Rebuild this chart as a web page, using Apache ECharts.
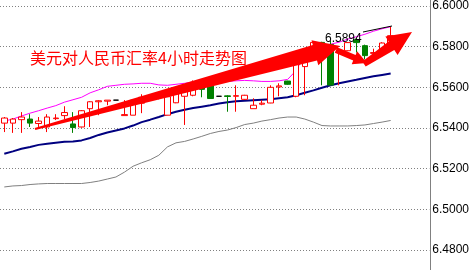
<!DOCTYPE html>
<html>
<head>
<meta charset="utf-8">
<script src="https://cdn.jsdelivr.net/npm/echarts@6/dist/echarts.min.js"></script>
<style>
html,body{margin:0;padding:0;background:#fff;}
#c{width:472px;height:270px;}
</style>
</head>
<body>
<div id="c"></div>
<script>
// categories (4-hour bars); the last four slots are empty space on the right
var categories = ["1","2","3","4","5","6","7","8","9","10","11","12","13","14","15","16","17","18","19","20",
  "21","22","23","24","25","26","27","28","29","30","31","32","33","34","35","36","37","38","39","40",
  "41","42","43","44","45","46","47","48","49","50"];

// candles: [open, close, low, high]
var candles = [
  [6.5424, 6.5449, 6.5380, 6.5454],
  [6.5424, 6.5444, 6.5376, 6.5449],
  [6.5441, 6.5454, 6.5376, 6.5478],
  [6.5444, 6.5424, 6.5405, 6.5468],
  [6.5422, 6.5434, 6.5405, 6.5454],
  [6.5405, 6.5454, 6.5380, 6.5468],
  [6.5446, 6.5449, 6.5439, 6.5468],
  [6.5461, 6.5476, 6.5444, 6.5507],
  [6.5420, 6.5402, 6.5376, 6.5478],
  [6.5405, 6.5485, 6.5402, 6.5488],
  [6.5495, 6.5529, 6.5405, 6.5532],
  [6.5529, 6.5534, 6.5463, 6.5537],
  [6.5532, 6.5537, 6.5512, 6.5537],
  [6.5537, 6.5537, 6.5537, 6.5537],
  [6.5461, 6.5466, 6.5461, 6.5537],
  [6.5463, 6.5537, 6.5463, 6.5541],
  [6.5522, 6.5551, 6.5473, 6.5566],
  [6.5546, 6.5554, 6.5537, 6.5556],
  [6.5551, 6.5561, 6.5541, 6.5571],
  [6.5463, 6.5554, 6.5463, 6.5561],
  [6.5524, 6.5576, 6.5522, 6.5585],
  [6.5556, 6.5595, 6.5415, 6.5605],
  [6.5561, 6.5620, 6.5556, 6.5634],
  [6.5610, 6.5590, 6.5551, 6.5634],
  [6.5610, 6.5545, 6.5544, 6.5615],
  [6.5556, 6.5556, 6.5556, 6.5556],
  [6.5558, 6.5555, 6.5480, 6.5561],
  [6.5556, 6.5559, 6.5480, 6.5610],
  [6.5541, 6.5561, 6.5539, 6.5563],
  [6.5495, 6.5512, 6.5495, 6.5546],
  [6.5517, 6.5522, 6.5512, 6.5537],
  [6.5523, 6.5600, 6.5522, 6.5610],
  [6.5602, 6.5607, 6.5556, 6.5620],
  [6.5631, 6.5615, 6.5612, 6.5632],
  [6.5556, 6.5771, 6.5551, 6.5776],
  [6.5702, 6.5780, 6.5561, 6.5790],
  [6.5771, 6.5821, 6.5768, 6.5824],
  [6.5821, 6.5805, 6.5610, 6.5824],
  [6.5811, 6.5611, 6.5610, 6.5829],
  [6.5776, 6.5780, 6.5610, 6.5780],
  [6.5780, 6.5820, 6.5778, 6.5822],
  [6.5834, 6.5820, 6.5771, 6.5844],
  [6.5805, 6.5756, 6.5737, 6.5810],
  [6.5767, 6.5771, 6.5748, 6.5790],
  [6.5777, 6.5818, 6.5776, 6.5822],
  [6.5805, 6.5854, 6.5795, 6.5898]
];

// Bollinger bands
var upperBand = [6.5434,6.5444,6.5459,6.5473,6.5485,6.5498,6.5510,6.5527,6.5539,6.5551,
  6.5573,6.5588,6.5605,6.5610,6.5615,6.5617,6.5620,6.5620,6.5612,6.5610,
  6.5615,6.5620,6.5627,6.5632,6.5634,6.5632,6.5629,6.5632,6.5634,6.5632,
  6.5629,6.5629,6.5632,6.5639,6.5683,6.5763,6.5790,6.5805,6.5812,6.5822,
  6.5837,6.5849,6.5861,6.5876,6.5888,6.5898];
var middleBand = [6.5273,6.5285,6.5298,6.5307,6.5317,6.5322,6.5327,6.5332,6.5334,6.5339,
  6.5351,6.5366,6.5378,6.5388,6.5398,6.5412,6.5429,6.5441,6.5454,6.5468,
  6.5480,6.5490,6.5498,6.5505,6.5512,6.5520,6.5527,6.5532,6.5534,6.5537,
  6.5539,6.5541,6.5546,6.5551,6.5561,6.5573,6.5585,6.5598,6.5610,6.5620,
  6.5629,6.5637,6.5646,6.5654,6.5661,6.5668];
var lowerBand = [6.5110,6.5115,6.5117,6.5122,6.5125,6.5127,6.5127,6.5127,6.5127,6.5127,
  6.5132,6.5139,6.5149,6.5159,6.5183,6.5212,6.5229,6.5244,6.5266,6.5307,
  6.5327,6.5334,6.5346,6.5359,6.5373,6.5383,6.5390,6.5402,6.5417,6.5424,
  6.5434,6.5441,6.5449,6.5454,6.5454,6.5444,6.5429,6.5412,6.5410,6.5410,
  6.5410,6.5412,6.5415,6.5422,6.5429,6.5437];

var yTicks = [6.48, 6.50, 6.52, 6.54, 6.56, 6.58, 6.60];
var titleText = "美元对人民币汇率4小时走势图";
var priceLabel = "6.5894";

var chart = echarts.init(document.getElementById('c'), null, {renderer: 'canvas'});

function poly(points) {
  return {type: 'polygon', z: 100, shape: {points: points}, style: {fill: '#ff0000'}};
}

chart.setOption({
  animation: false,
  backgroundColor: '#ffffff',
  grid: {left: 0, right: 42, top: 5, bottom: 20},
  xAxis: {
    type: 'category',
    data: categories,
    boundaryGap: true,
    axisLine: {show: false},
    axisTick: {show: false},
    axisLabel: {show: false},
    splitLine: {show: false}
  },
  yAxis: {
    type: 'value',
    position: 'right',
    min: yTicks[0],
    max: yTicks[yTicks.length - 1],
    interval: 0.02,
    scale: true,
    axisLine: {show: false},
    axisTick: {show: false},
    axisLabel: {
      margin: 3,
      color: '#000000',
      fontFamily: 'Liberation Sans',
      fontSize: 12,
      verticalAlign: 'middle',
      padding: [5, 0, 0, 0],
      formatter: function (v) { return v.toFixed(4); }
    },
    splitLine: {show: true, lineStyle: {color: '#808080', type: [1, 2], width: 1}}
  },
  series: [
    {
      type: 'line', data: lowerBand, symbol: 'none', z: 2,
      lineStyle: {color: '#808080', width: 1}
    },
    {
      type: 'line', data: middleBand, symbol: 'none', z: 2,
      lineStyle: {color: '#000080', width: 2}
    },
    {
      type: 'line', data: upperBand, symbol: 'none', z: 2,
      lineStyle: {color: '#ff00ff', width: 1}
    },
    {
      type: 'candlestick', data: candles, barWidth: 6, z: 3,
      itemStyle: {
        color: '#ffffff', color0: '#008000',
        borderColor: '#ff0000', borderColor0: '#008000',
        borderColorDoji: '#000000', borderWidth: 1
      }
    }
  ],
  graphic: [
    {type: 'line', z: 50, shape: {x1: 430.5, y1: 0, x2: 430.5, y2: 270}, style: {stroke: '#808080', lineWidth: 1}},
    {type: 'text', z: 50, style: {text: titleText, x: 30, y: 58, verticalAlign: 'middle',
      font: '16px "Noto Sans CJK SC"', fill: '#ff0000'}},
    {type: 'line', z: 60, shape: {x1: 363, y1: 32, x2: 392, y2: 26}, style: {stroke: '#000000', lineWidth: 1}},
    poly([[34.7,128.0],[312.8,45.0],[311.5,40.2],[340,46],[318.3,65.2],[317.0,60.4],[35.3,130.0]]),
    poly([[337.2,47.2],[355.6,54.9],[357.1,51.2],[367,63],[351.7,64.2],[353.2,60.5],[334.8,52.8]]),
    poly([[362.3,61.5],[388.7,41.5],[385.4,36.5],[412,32],[397.6,54.9],[394.3,49.9],[365.7,66.5]]),
    {type: 'text', z: 120, style: {text: priceLabel, x: 325, y: 39, verticalAlign: 'middle',
      font: '12px "Liberation Sans"', fill: '#000000'}}
  ]
});
</script>
</body>
</html>
